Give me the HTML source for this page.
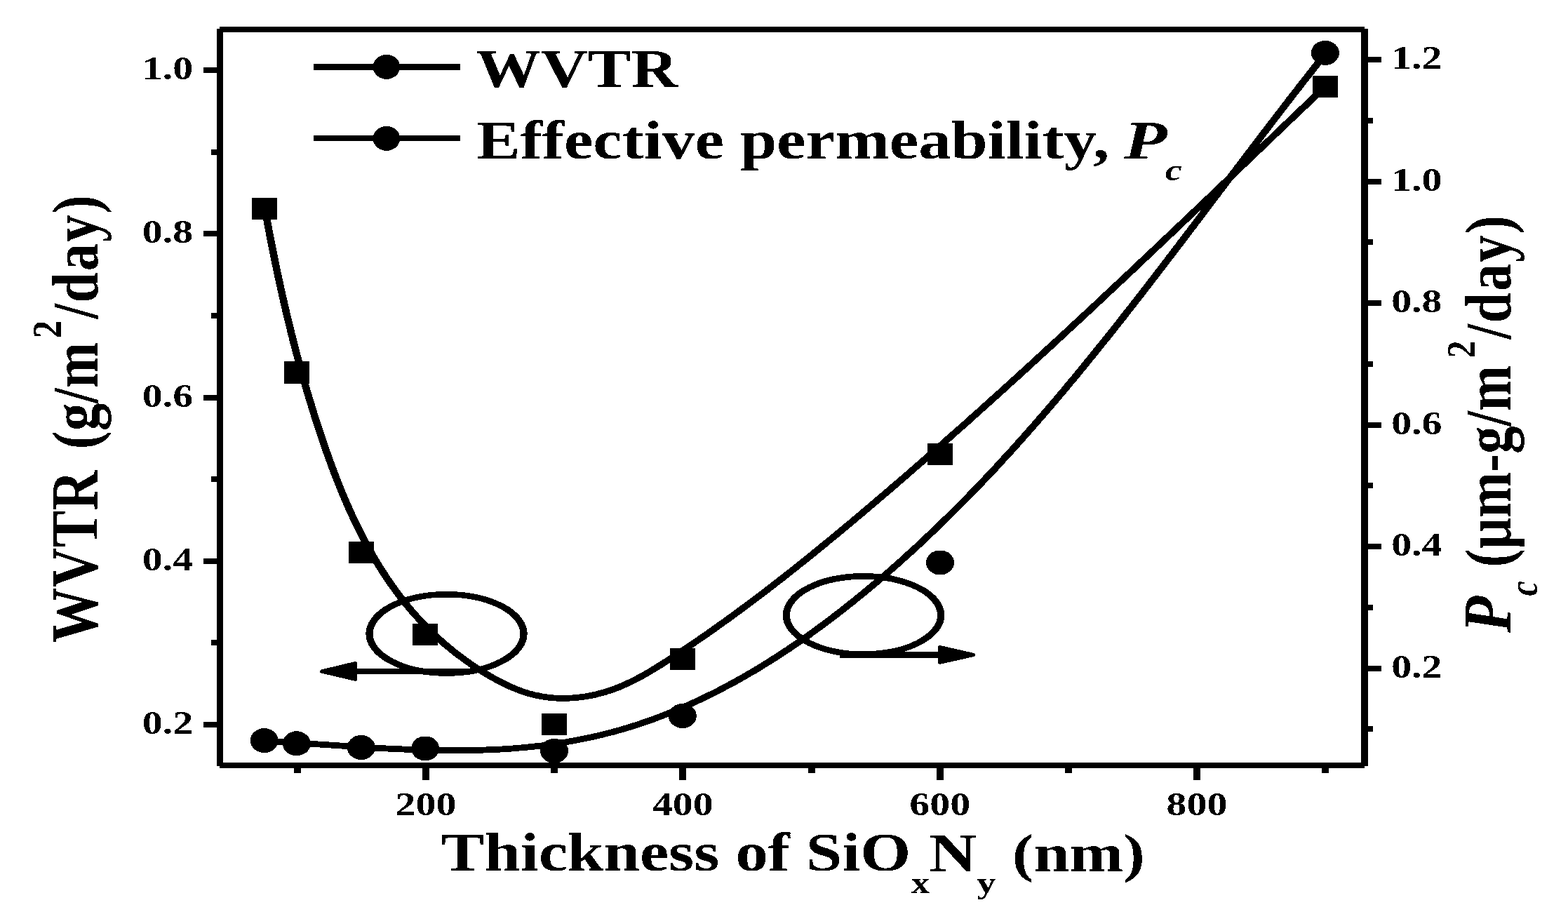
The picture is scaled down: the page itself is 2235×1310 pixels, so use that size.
<!DOCTYPE html>
<html lang="en"><head><meta charset="utf-8"><title>WVTR and effective permeability vs SiOxNy thickness</title>
<style>html,body{margin:0;padding:0;background:#fff;overflow:hidden}svg{display:block}</style></head><body>
<svg width="2235" height="1310" viewBox="0 0 2235 1310" font-family="'Liberation Serif', serif" font-weight="bold" fill="#000">
<defs><filter id="bin" filterUnits="userSpaceOnUse" x="0" y="0" width="2235" height="1310" color-interpolation-filters="sRGB"><feComponentTransfer><feFuncR type="discrete" tableValues="0 1"/><feFuncG type="discrete" tableValues="0 1"/><feFuncB type="discrete" tableValues="0 1"/></feComponentTransfer></filter></defs>
<g filter="url(#bin)">
<rect x="0" y="0" width="2235" height="1310" fill="#fff"/>
<g shape-rendering="crispEdges">
<rect x="309" y="41" width="9" height="1051"/>
<rect x="1940" y="41" width="10" height="1051"/>
<rect x="313" y="38" width="1632" height="8"/>
<rect x="313" y="1087" width="1632" height="8"/>
<rect x="290" y="96.0" width="20" height="8"/>
<rect x="290" y="329.2" width="20" height="8"/>
<rect x="290" y="562.5" width="20" height="8"/>
<rect x="290" y="795.8" width="20" height="8"/>
<rect x="290" y="1029.0" width="20" height="8"/>
<rect x="301" y="212.6" width="9" height="8"/>
<rect x="301" y="445.9" width="9" height="8"/>
<rect x="301" y="679.1" width="9" height="8"/>
<rect x="301" y="912.4" width="9" height="8"/>
<rect x="1949" y="81.0" width="20" height="8"/>
<rect x="1949" y="254.5" width="20" height="8"/>
<rect x="1949" y="428.0" width="20" height="8"/>
<rect x="1949" y="601.6" width="20" height="8"/>
<rect x="1949" y="775.1" width="20" height="8"/>
<rect x="1949" y="948.6" width="20" height="8"/>
<rect x="1949" y="167.8" width="8" height="8"/>
<rect x="1949" y="341.3" width="8" height="8"/>
<rect x="1949" y="514.8" width="8" height="8"/>
<rect x="1949" y="688.3" width="8" height="8"/>
<rect x="1949" y="861.8" width="8" height="8"/>
<rect x="1949" y="1035.4" width="8" height="8"/>
<rect x="602.0" y="1094" width="10" height="18"/>
<rect x="968.3" y="1094" width="10" height="18"/>
<rect x="1334.7" y="1094" width="10" height="18"/>
<rect x="1701.0" y="1094" width="10" height="18"/>
<rect x="418.8" y="1094" width="10" height="8"/>
<rect x="785.2" y="1094" width="10" height="8"/>
<rect x="1151.5" y="1094" width="10" height="8"/>
<rect x="1517.8" y="1094" width="10" height="8"/>
<rect x="1884.2" y="1094" width="10" height="8"/>
</g>
<text transform="translate(202.84,113.20) scale(1.2680,1)" font-size="45.66">1.0</text>
<text transform="translate(202.84,346.45) scale(1.2680,1)" font-size="45.66">0.8</text>
<text transform="translate(202.84,579.70) scale(1.2680,1)" font-size="45.66">0.6</text>
<text transform="translate(202.84,812.95) scale(1.2680,1)" font-size="45.66">0.4</text>
<text transform="translate(202.84,1046.20) scale(1.2680,1)" font-size="45.66">0.2</text>
<text transform="translate(1983.17,98.30) scale(1.2680,1)" font-size="45.66">1.2</text>
<text transform="translate(1983.17,271.82) scale(1.2680,1)" font-size="45.66">1.0</text>
<text transform="translate(1983.17,445.34) scale(1.2680,1)" font-size="45.66">0.8</text>
<text transform="translate(1983.17,618.86) scale(1.2680,1)" font-size="45.66">0.6</text>
<text transform="translate(1983.17,792.38) scale(1.2680,1)" font-size="45.66">0.4</text>
<text transform="translate(1983.17,965.90) scale(1.2680,1)" font-size="45.66">0.2</text>
<text transform="translate(563.58,1162.30) scale(1.2680,1)" font-size="45.66">200</text>
<text transform="translate(929.92,1162.30) scale(1.2680,1)" font-size="45.66">400</text>
<text transform="translate(1296.26,1162.30) scale(1.2680,1)" font-size="45.66">600</text>
<text transform="translate(1662.60,1162.30) scale(1.2680,1)" font-size="45.66">800</text>
<text transform="translate(628.52,1241.00) scale(1.1885,1)" font-size="78.02">Thickness of SiO</text>
<text transform="translate(1298.79,1273.00) scale(1.2059,1)" font-size="43.57">x</text>
<text transform="translate(1324.11,1241.50) scale(1.1986,1)" font-size="78.47">N</text>
<text transform="translate(1392.26,1273.00) scale(1.2479,1)" font-size="43.57">y</text>
<text transform="translate(1442.64,1241.50) scale(1.1970,1)" font-size="77.00">(nm)</text>
<text transform="translate(138.70,916.00) rotate(-90) scale(1,1.2200)" font-size="78.50" letter-spacing="0.36">WVTR</text>
<text transform="translate(138.70,640.15) rotate(-90) scale(1,1.1800)" font-size="78.50" letter-spacing="-0.11">(g/m</text>
<text transform="translate(87.10,482.26) rotate(-90) scale(1,1.1567)" font-size="51.33">2</text>
<text transform="translate(138.70,454.81) rotate(-90) scale(1,1.1800)" font-size="78.50" letter-spacing="1.59">/day)</text>
<text transform="translate(2153.20,901.70) rotate(-90) scale(1,1.1318)" font-size="85.25" font-style="italic">P</text>
<text transform="translate(2191.00,849.52) rotate(-90) scale(1,1.2172)" font-size="47.83" font-style="italic">c</text>
<text transform="translate(2153.00,808.45) rotate(-90) scale(1,1.1800)" font-size="78.50" letter-spacing="-0.13">(μm-g/m</text>
<text transform="translate(2101.70,510.74) rotate(-90) scale(1,1.1379)" font-size="50.84">2</text>
<text transform="translate(2153.00,483.71) rotate(-90) scale(1,1.1800)" font-size="78.50" letter-spacing="1.61">/day)</text>
<rect x="447" y="91" width="209" height="9"/>
<ellipse cx="550.9" cy="95.4" rx="19.3" ry="17.5"/>
<rect x="447" y="193" width="209" height="8"/>
<ellipse cx="550.9" cy="197.4" rx="19.3" ry="17.5"/>
<text transform="translate(678.61,123.80) scale(1.1918,1)" font-size="77.56">WVTR</text>
<text transform="translate(679.51,225.90) scale(1.1990,1)" font-size="77.86">Effective permeability,</text>
<text transform="translate(1602.00,225.90) scale(1.2977,1)" font-size="77.56" font-style="italic">P</text>
<text transform="translate(1661.10,256.50) scale(1.2265,1)" font-size="43.52" font-style="italic">c</text>
<g transform="scale(1.2,1)" fill="none" stroke="#000" stroke-width="8.8" stroke-linejoin="round">
<path d="M314.54,296.98 L315.23,301.53 L315.92,306.08 L316.62,310.62 L317.32,315.15 L318.03,319.69 L318.74,324.22 L319.46,328.74 L320.18,333.26 L320.90,337.78 L321.63,342.29 L322.37,346.80 L323.11,351.30 L323.86,355.80 L324.61,360.30 L325.36,364.79 L326.13,369.28 L326.89,373.76 L327.67,378.25 L328.45,382.72 L329.23,387.20 L330.02,391.67 L330.82,396.14 L331.62,400.60 L332.43,405.07 L333.24,409.52 L334.06,413.98 L334.89,418.43 L335.73,422.88 L336.57,427.32 L337.41,431.77 L338.27,436.20 L339.13,440.64 L339.99,445.07 L340.87,449.50 L341.75,453.93 L342.63,458.36 L343.53,462.78 L344.43,467.20 L345.34,471.61 L346.26,476.03 L347.18,480.44 L348.11,484.85 L349.05,489.26 L350.00,493.66 L350.95,498.06 L351.92,502.46 L352.89,506.86 L353.87,511.25 L354.85,515.64 L355.85,520.04 L356.85,524.42 L357.86,528.81 L358.88,533.19 L359.91,537.58 L360.95,541.96 L361.99,546.33 L363.05,550.71 L364.11,555.09 L365.18,559.46 L366.27,563.83 L367.36,568.20 L368.46,572.57 L369.56,576.93 L370.68,581.30 L371.81,585.66 L372.95,590.02 L374.09,594.38 L375.25,598.74 L376.41,603.10 L377.59,607.46 L378.77,611.81 L379.97,616.17 L381.18,620.52 L382.39,624.87 L383.62,629.22 L384.86,633.56 L386.11,637.91 L387.37,642.24 L388.64,646.58 L389.93,650.91 L391.22,655.24 L392.54,659.56 L393.86,663.87 L395.20,668.18 L396.55,672.49 L397.92,676.78 L399.30,681.07 L400.69,685.35 L402.11,689.62 L403.53,693.89 L404.97,698.15 L406.43,702.39 L407.91,706.63 L409.40,710.86 L410.91,715.07 L412.43,719.28 L413.98,723.47 L415.54,727.66 L417.12,731.83 L418.72,735.98 L420.33,740.13 L421.97,744.26 L423.62,748.38 L425.30,752.48 L427.00,756.57 L428.71,760.65 L430.45,764.71 L432.21,768.75 L433.98,772.78 L435.79,776.79 L437.61,780.78 L439.45,784.75 L441.32,788.71 L443.21,792.65 L445.13,796.57 L447.06,800.47 L449.02,804.36 L451.01,808.22 L453.02,812.06 L455.05,815.88 L457.11,819.68 L459.20,823.46 L461.31,827.22 L463.44,830.95 L465.61,834.66 L467.80,838.35 L470.01,842.02 L472.26,845.66 L474.53,849.28 L476.83,852.87 L479.15,856.43 L481.51,859.97 L483.89,863.49 L486.31,866.98 L488.75,870.44 L491.22,873.87 L493.72,877.28 L496.26,880.66 L498.82,884.01 L501.41,887.33 L504.04,890.62 L506.70,893.88 L509.38,897.11 L512.10,900.31 L514.85,903.48 L517.63,906.62 L520.43,909.72 L523.27,912.79 L526.14,915.83 L529.03,918.83 L531.95,921.80 L534.90,924.73 L537.88,927.63 L540.89,930.48 L543.92,933.30 L546.98,936.09 L550.06,938.83 L553.17,941.54 L556.31,944.20 L559.47,946.83 L562.66,949.41 L565.87,951.95 L569.11,954.46 L572.37,956.91 L575.65,959.33 L578.96,961.70 L582.29,964.03 L585.64,966.31 L589.01,968.54 L592.41,970.72 L595.83,972.83 L599.27,974.88 L602.74,976.87 L606.22,978.77 L609.73,980.60 L613.25,982.33 L616.80,983.98 L620.37,985.53 L623.96,986.98 L627.57,988.32 L631.20,989.55 L634.85,990.66 L638.52,991.65 L642.21,992.52 L645.91,993.28 L649.63,993.91 L653.36,994.43 L657.09,994.84 L660.84,995.14 L664.60,995.32 L668.36,995.40 L672.12,995.37 L675.88,995.23 L679.64,994.98 L683.40,994.64 L687.16,994.19 L690.91,993.63 L694.65,992.98 L698.38,992.23 L702.10,991.39 L705.81,990.45 L709.51,989.41 L713.18,988.28 L716.84,987.07 L720.48,985.76 L724.09,984.36 L727.68,982.88 L731.25,981.31 L734.78,979.65 L738.29,977.92 L741.78,976.11 L745.24,974.23 L748.67,972.27 L752.08,970.26 L755.47,968.18 L758.84,966.04 L762.20,963.85 L765.53,961.62 L768.84,959.33 L772.14,957.01 L775.43,954.65 L778.70,952.26 L781.96,949.83 L785.21,947.38 L788.45,944.92 L791.68,942.43 L794.90,939.93 L798.11,937.42 L801.32,934.90 L804.52,932.37 L807.72,929.84 L810.91,927.29 L814.09,924.74 L817.27,922.18 L820.44,919.61 L823.61,917.04 L826.77,914.45 L829.92,911.86 L833.07,909.26 L836.21,906.65 L839.35,904.04 L842.48,901.41 L845.60,898.78 L848.72,896.14 L851.84,893.50 L854.95,890.85 L858.05,888.19 L861.15,885.52 L864.25,882.84 L867.33,880.16 L870.42,877.47 L873.50,874.78 L876.57,872.08 L879.64,869.37 L882.70,866.65 L885.76,863.93 L888.82,861.20 L891.87,858.47 L894.91,855.73 L897.96,852.98 L900.99,850.23 L904.02,847.47 L907.05,844.71 L910.08,841.94 L913.10,839.16 L916.11,836.38 L919.12,833.59 L922.13,830.79 L925.13,828.00 L928.13,825.19 L931.13,822.38 L934.12,819.57 L937.11,816.75 L940.10,813.92 L943.08,811.09 L946.06,808.25 L949.03,805.41 L952.00,802.57 L954.97,799.72 L957.93,796.86 L960.89,794.00 L963.85,791.14 L966.81,788.27 L969.76,785.40 L972.71,782.52 L975.66,779.64 L978.60,776.76 L981.54,773.87 L984.48,770.98 L987.41,768.08 L990.35,765.18 L993.28,762.27 L996.20,759.37 L999.13,756.45 L1002.05,753.54 L1004.97,750.62 L1007.89,747.70 L1010.81,744.77 L1013.72,741.85 L1016.63,738.91 L1019.54,735.98 L1022.45,733.04 L1025.36,730.10 L1028.26,727.16 L1031.17,724.21 L1034.07,721.27 L1036.97,718.32 L1039.87,715.36 L1042.76,712.41 L1045.66,709.45 L1048.55,706.49 L1051.44,703.52 L1054.33,700.56 L1057.22,697.59 L1060.11,694.62 L1062.99,691.64 L1065.88,688.67 L1068.76,685.69 L1071.64,682.71 L1074.52,679.73 L1077.40,676.74 L1080.28,673.75 L1083.15,670.76 L1086.02,667.77 L1088.90,664.78 L1091.77,661.78 L1094.64,658.78 L1097.50,655.78 L1100.37,652.78 L1103.24,649.77 L1106.10,646.76 L1108.96,643.76 L1111.82,640.74 L1114.68,637.73 L1117.54,634.71 L1120.40,631.69 L1123.25,628.67 L1126.11,625.65 L1128.96,622.63 L1131.81,619.60 L1134.66,616.57 L1137.51,613.54 L1140.36,610.51 L1143.20,607.47 L1146.05,604.44 L1148.89,601.40 L1151.73,598.36 L1154.57,595.31 L1157.41,592.27 L1160.25,589.22 L1163.09,586.18 L1165.92,583.13 L1168.76,580.07 L1171.59,577.02 L1174.42,573.97 L1177.26,570.91 L1180.09,567.85 L1182.91,564.79 L1185.74,561.73 L1188.57,558.66 L1191.39,555.60 L1194.22,552.53 L1197.04,549.46 L1199.86,546.39 L1202.68,543.32 L1205.50,540.24 L1208.32,537.17 L1211.14,534.09 L1213.96,531.01 L1216.77,527.93 L1219.59,524.85 L1222.40,521.76 L1225.21,518.68 L1228.02,515.59 L1230.83,512.51 L1233.64,509.42 L1236.45,506.33 L1239.26,503.23 L1242.06,500.14 L1244.87,497.04 L1247.67,493.95 L1250.48,490.85 L1253.28,487.75 L1256.08,484.65 L1258.88,481.55 L1261.68,478.45 L1264.48,475.34 L1267.28,472.24 L1270.07,469.13 L1272.87,466.02 L1275.66,462.91 L1278.46,459.80 L1281.25,456.69 L1284.04,453.58 L1286.83,450.46 L1289.62,447.35 L1292.41,444.23 L1295.20,441.11 L1297.99,437.99 L1300.78,434.88 L1303.56,431.75 L1306.35,428.63 L1309.13,425.51 L1311.92,422.39 L1314.70,419.26 L1317.49,416.14 L1320.27,413.01 L1323.05,409.88 L1325.83,406.75 L1328.61,403.62 L1331.39,400.49 L1334.17,397.36 L1336.94,394.23 L1339.72,391.10 L1342.50,387.96 L1345.27,384.83 L1348.05,381.69 L1350.82,378.56 L1353.59,375.42 L1356.37,372.28 L1359.14,369.15 L1361.91,366.01 L1364.68,362.87 L1367.45,359.73 L1370.22,356.59 L1372.99,353.44 L1375.76,350.30 L1378.53,347.16 L1381.30,344.02 L1384.06,340.87 L1386.83,337.73 L1389.60,334.58 L1392.36,331.44 L1395.13,328.29 L1397.89,325.14 L1400.65,321.99 L1403.42,318.85 L1406.18,315.70 L1408.94,312.55 L1411.70,309.40 L1414.47,306.25 L1417.23,303.10 L1419.99,299.95 L1422.75,296.80 L1425.51,293.65 L1428.27,290.50 L1431.03,287.35 L1433.78,284.19 L1436.54,281.04 L1439.30,277.89 L1442.06,274.74 L1444.82,271.58 L1447.57,268.43 L1450.33,265.28 L1453.08,262.12 L1455.84,258.97 L1458.60,255.82 L1461.35,252.66 L1464.11,249.51 L1466.86,246.35 L1469.61,243.20 L1472.37,240.04 L1475.12,236.89 L1477.88,233.74 L1480.63,230.58 L1483.38,227.43 L1486.13,224.27 L1488.89,221.12 L1491.64,217.96 L1494.39,214.81 L1497.14,211.65 L1499.90,208.50 L1502.65,205.35 L1505.40,202.19 L1508.15,199.04 L1510.90,195.88 L1513.65,192.73 L1516.40,189.58 L1519.15,186.43 L1521.90,183.27 L1524.65,180.12 L1527.40,176.97 L1530.15,173.81 L1532.90,170.66 L1535.65,167.51 L1538.40,164.36 L1541.15,161.21 L1543.90,158.06 L1546.65,154.91 L1549.40,151.76 L1552.15,148.61 L1554.90,145.46 L1557.65,142.31 L1560.40,139.16 L1563.15,136.02 L1565.90,132.87 L1568.65,129.72 L1571.40,126.58 L1574.15,123.43"/>
<path d="M314.44,1056.62 L317.56,1056.79 L320.69,1056.97 L323.82,1057.16 L326.96,1057.35 L330.10,1057.55 L333.24,1057.75 L336.38,1057.95 L339.53,1058.17 L342.69,1058.38 L345.84,1058.60 L349.00,1058.82 L352.16,1059.05 L355.33,1059.28 L358.50,1059.51 L361.67,1059.74 L364.84,1059.98 L368.02,1060.22 L371.20,1060.46 L374.38,1060.71 L377.56,1060.95 L380.75,1061.20 L383.94,1061.45 L387.14,1061.70 L390.33,1061.94 L393.53,1062.19 L396.73,1062.44 L399.93,1062.69 L403.13,1062.94 L406.34,1063.19 L409.55,1063.44 L412.76,1063.68 L415.97,1063.93 L419.19,1064.17 L422.40,1064.41 L425.62,1064.65 L428.84,1064.89 L432.06,1065.12 L435.28,1065.35 L438.51,1065.58 L441.73,1065.81 L444.96,1066.03 L448.19,1066.24 L451.42,1066.46 L454.65,1066.66 L457.88,1066.87 L461.12,1067.07 L464.35,1067.26 L467.58,1067.45 L470.82,1067.63 L474.06,1067.81 L477.30,1067.98 L480.53,1068.15 L483.77,1068.31 L487.01,1068.46 L490.25,1068.60 L493.49,1068.74 L496.74,1068.87 L499.98,1068.99 L503.22,1069.11 L506.46,1069.21 L509.70,1069.31 L512.95,1069.40 L516.19,1069.48 L519.43,1069.55 L522.68,1069.61 L525.92,1069.66 L529.16,1069.70 L532.40,1069.73 L535.64,1069.75 L538.89,1069.76 L542.13,1069.76 L545.37,1069.74 L548.61,1069.72 L551.85,1069.68 L555.09,1069.64 L558.32,1069.58 L561.56,1069.50 L564.80,1069.42 L568.03,1069.32 L571.27,1069.21 L574.50,1069.08 L577.73,1068.94 L580.97,1068.79 L584.20,1068.63 L587.42,1068.45 L590.65,1068.25 L593.88,1068.04 L597.10,1067.82 L600.32,1067.58 L603.54,1067.32 L606.76,1067.06 L609.98,1066.77 L613.19,1066.47 L616.40,1066.15 L619.61,1065.82 L622.82,1065.47 L626.03,1065.11 L629.23,1064.73 L632.43,1064.33 L635.63,1063.91 L638.82,1063.48 L642.01,1063.03 L645.20,1062.56 L648.39,1062.08 L651.57,1061.57 L654.75,1061.05 L657.93,1060.51 L661.10,1059.95 L664.27,1059.38 L667.43,1058.78 L670.60,1058.16 L673.75,1057.53 L676.91,1056.88 L680.06,1056.20 L683.21,1055.51 L686.35,1054.79 L689.49,1054.06 L692.62,1053.31 L695.75,1052.53 L698.88,1051.74 L702.00,1050.93 L705.12,1050.09 L708.23,1049.24 L711.34,1048.37 L714.44,1047.47 L717.54,1046.56 L720.64,1045.62 L723.72,1044.67 L726.81,1043.69 L729.89,1042.70 L732.96,1041.68 L736.03,1040.65 L739.09,1039.59 L742.15,1038.51 L745.21,1037.42 L748.25,1036.30 L751.30,1035.16 L754.33,1034.00 L757.37,1032.83 L760.39,1031.63 L763.41,1030.41 L766.43,1029.18 L769.44,1027.92 L772.45,1026.65 L775.45,1025.35 L778.44,1024.04 L781.43,1022.71 L784.41,1021.36 L787.39,1019.99 L790.36,1018.60 L793.33,1017.20 L796.29,1015.77 L799.25,1014.33 L802.20,1012.87 L805.15,1011.39 L808.09,1009.90 L811.03,1008.39 L813.96,1006.86 L816.88,1005.31 L819.80,1003.75 L822.71,1002.16 L825.62,1000.57 L828.53,998.95 L831.42,997.32 L834.32,995.67 L837.20,994.01 L840.08,992.33 L842.96,990.64 L845.83,988.92 L848.70,987.20 L851.56,985.45 L854.41,983.70 L857.26,981.92 L860.10,980.13 L862.94,978.33 L865.77,976.51 L868.60,974.68 L871.42,972.83 L874.24,970.97 L877.05,969.09 L879.86,967.20 L882.66,965.30 L885.45,963.38 L888.24,961.45 L891.03,959.50 L893.80,957.54 L896.58,955.57 L899.34,953.58 L902.11,951.58 L904.86,949.57 L907.62,947.54 L910.36,945.50 L913.10,943.45 L915.84,941.39 L918.57,939.31 L921.29,937.23 L924.01,935.13 L926.72,933.02 L929.43,930.89 L932.13,928.76 L934.83,926.61 L937.52,924.45 L940.21,922.28 L942.89,920.10 L945.56,917.91 L948.23,915.71 L950.89,913.50 L953.55,911.27 L956.21,909.04 L958.85,906.80 L961.50,904.54 L964.13,902.28 L966.76,900.00 L969.39,897.72 L972.01,895.43 L974.62,893.12 L977.23,890.81 L979.84,888.49 L982.43,886.16 L985.03,883.82 L987.61,881.47 L990.20,879.12 L992.77,876.75 L995.34,874.38 L997.91,872.00 L1000.47,869.61 L1003.02,867.21 L1005.57,864.80 L1008.11,862.39 L1010.65,859.97 L1013.18,857.54 L1015.71,855.10 L1018.23,852.66 L1020.74,850.21 L1023.25,847.76 L1025.76,845.29 L1028.26,842.82 L1030.75,840.34 L1033.24,837.86 L1035.72,835.37 L1038.20,832.88 L1040.67,830.38 L1043.13,827.87 L1045.59,825.35 L1048.05,822.83 L1050.50,820.31 L1052.94,817.78 L1055.38,815.24 L1057.81,812.70 L1060.24,810.15 L1062.67,807.59 L1065.08,805.03 L1067.50,802.46 L1069.90,799.89 L1072.31,797.31 L1074.70,794.73 L1077.10,792.14 L1079.48,789.54 L1081.86,786.94 L1084.24,784.33 L1086.61,781.72 L1088.98,779.10 L1091.34,776.48 L1093.70,773.85 L1096.05,771.22 L1098.40,768.58 L1100.75,765.93 L1103.08,763.28 L1105.42,760.63 L1107.75,757.97 L1110.07,755.30 L1112.39,752.63 L1114.71,749.95 L1117.02,747.27 L1119.32,744.59 L1121.62,741.89 L1123.92,739.20 L1126.21,736.50 L1128.50,733.79 L1130.78,731.08 L1133.06,728.36 L1135.34,725.64 L1137.61,722.92 L1139.88,720.18 L1142.14,717.45 L1144.40,714.71 L1146.65,711.96 L1148.90,709.21 L1151.14,706.46 L1153.38,703.70 L1155.62,700.94 L1157.85,698.17 L1160.08,695.40 L1162.31,692.62 L1164.53,689.84 L1166.75,687.05 L1168.96,684.26 L1171.17,681.47 L1173.37,678.67 L1175.57,675.87 L1177.77,673.06 L1179.97,670.25 L1182.16,667.43 L1184.34,664.61 L1186.52,661.79 L1188.70,658.96 L1190.88,656.13 L1193.05,653.29 L1195.22,650.45 L1197.38,647.61 L1199.54,644.76 L1201.70,641.91 L1203.85,639.05 L1206.00,636.19 L1208.15,633.33 L1210.29,630.46 L1212.44,627.59 L1214.57,624.72 L1216.71,621.84 L1218.84,618.96 L1220.96,616.07 L1223.09,613.18 L1225.21,610.29 L1227.32,607.40 L1229.44,604.50 L1231.55,601.59 L1233.66,598.69 L1235.76,595.78 L1237.87,592.87 L1239.96,589.95 L1242.06,587.03 L1244.15,584.11 L1246.24,581.18 L1248.33,578.25 L1250.42,575.32 L1252.50,572.38 L1254.58,569.44 L1256.65,566.50 L1258.73,563.56 L1260.80,560.61 L1262.86,557.66 L1264.93,554.71 L1266.99,551.75 L1269.05,548.79 L1271.11,545.83 L1273.16,542.87 L1275.22,539.90 L1277.27,536.93 L1279.31,533.95 L1281.36,530.98 L1283.40,528.00 L1285.44,525.02 L1287.48,522.04 L1289.51,519.05 L1291.55,516.06 L1293.58,513.07 L1295.61,510.08 L1297.63,507.08 L1299.66,504.08 L1301.68,501.08 L1303.70,498.08 L1305.72,495.08 L1307.73,492.07 L1309.75,489.06 L1311.76,486.05 L1313.77,483.03 L1315.78,480.02 L1317.78,477.00 L1319.79,473.98 L1321.79,470.96 L1323.79,467.93 L1325.79,464.91 L1327.78,461.88 L1329.78,458.85 L1331.77,455.82 L1333.76,452.79 L1335.75,449.75 L1337.74,446.71 L1339.73,443.67 L1341.71,440.63 L1343.70,437.59 L1345.68,434.55 L1347.66,431.50 L1349.64,428.46 L1351.62,425.41 L1353.59,422.36 L1355.57,419.31 L1357.54,416.25 L1359.51,413.20 L1361.48,410.14 L1363.45,407.09 L1365.42,404.03 L1367.39,400.97 L1369.35,397.91 L1371.32,394.85 L1373.28,391.78 L1375.24,388.72 L1377.20,385.66 L1379.16,382.59 L1381.12,379.52 L1383.08,376.45 L1385.04,373.38 L1386.99,370.31 L1388.95,367.24 L1390.90,364.17 L1392.86,361.10 L1394.81,358.02 L1396.76,354.95 L1398.71,351.87 L1400.66,348.80 L1402.61,345.72 L1404.56,342.64 L1406.51,339.57 L1408.46,336.49 L1410.41,333.41 L1412.35,330.33 L1414.30,327.25 L1416.24,324.17 L1418.19,321.09 L1420.13,318.00 L1422.08,314.92 L1424.02,311.84 L1425.96,308.76 L1427.91,305.68 L1429.85,302.59 L1431.79,299.51 L1433.73,296.43 L1435.68,293.34 L1437.62,290.26 L1439.56,287.18 L1441.50,284.09 L1443.44,281.01 L1445.38,277.92 L1447.32,274.84 L1449.27,271.76 L1451.21,268.67 L1453.15,265.59 L1455.09,262.51 L1457.03,259.42 L1458.97,256.34 L1460.91,253.26 L1462.85,250.18 L1464.80,247.10 L1466.74,244.01 L1468.68,240.93 L1470.62,237.85 L1472.56,234.77 L1474.51,231.69 L1476.45,228.62 L1478.40,225.54 L1480.34,222.46 L1482.28,219.38 L1484.23,216.31 L1486.18,213.23 L1488.12,210.16 L1490.07,207.08 L1492.02,204.01 L1493.96,200.94 L1495.91,197.86 L1497.86,194.79 L1499.81,191.72 L1501.76,188.65 L1503.71,185.59 L1505.67,182.52 L1507.62,179.45 L1509.57,176.39 L1511.53,173.33 L1513.48,170.26 L1515.44,167.20 L1517.40,164.14 L1519.36,161.08 L1521.31,158.03 L1523.28,154.97 L1525.24,151.91 L1527.20,148.86 L1529.16,145.81 L1531.13,142.76 L1533.09,139.71 L1535.06,136.66 L1537.03,133.62 L1539.00,130.57 L1540.97,127.53 L1542.94,124.49 L1544.92,121.45 L1546.89,118.41 L1548.87,115.37 L1550.85,112.34 L1552.83,109.31 L1554.81,106.28 L1556.79,103.25 L1558.77,100.22 L1560.76,97.19 L1562.75,94.17 L1564.74,91.15 L1566.73,88.13 L1568.72,85.11 L1570.71,82.10 L1572.71,79.09 L1574.70,76.08"/>
</g>
<rect x="359.0" y="281.9" width="36" height="31"/>
<rect x="405.0" y="515.5" width="36" height="31"/>
<rect x="497.0" y="771.8" width="36" height="31"/>
<rect x="588.0" y="888.8" width="36" height="31"/>
<rect x="772.0" y="1016.8" width="36" height="31"/>
<rect x="954.9" y="923.8" width="36" height="31"/>
<rect x="1322.0" y="631.9" width="36" height="31"/>
<rect x="1871.0" y="107.8" width="36" height="31"/>
<ellipse cx="376.7" cy="1055.6" rx="20" ry="17.5"/>
<ellipse cx="422.7" cy="1059.8" rx="20" ry="17.5"/>
<ellipse cx="514.8" cy="1065.5" rx="20" ry="17.5"/>
<ellipse cx="606.2" cy="1066.9" rx="20" ry="17.5"/>
<ellipse cx="790.0" cy="1070.3" rx="20" ry="17.5"/>
<ellipse cx="972.8" cy="1020.5" rx="20" ry="17.5"/>
<ellipse cx="1340.0" cy="802.0" rx="20" ry="17.5"/>
<ellipse cx="1888.9" cy="75.4" rx="20" ry="17.5"/>
<g transform="scale(1.2,1)" fill="none" stroke="#000" stroke-width="8.6">
<ellipse cx="530.42" cy="903.4" rx="91.67" ry="56.2"/>
<ellipse cx="1025.83" cy="877" rx="91.83" ry="55.6"/>
</g>
<rect x="500" y="953" width="165" height="8"/>
<path d="M458.4,957 L506.4,945.5 L506.4,968.4 Z" stroke="#000" stroke-width="5" stroke-linejoin="round"/>
<rect x="1197" y="929.2" width="148" height="8.7"/>
<path d="M1387.6,933.5 L1339.6,922.5 L1339.6,944.3 Z" stroke="#000" stroke-width="5" stroke-linejoin="round"/>
</g>
</svg></body></html>
